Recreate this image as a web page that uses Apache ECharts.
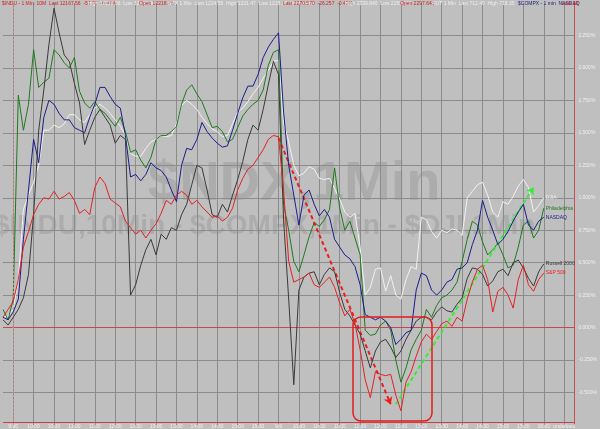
<!DOCTYPE html>
<html><head><meta charset="utf-8">
<script src="https://cdn.jsdelivr.net/npm/echarts@6/dist/echarts.min.js"></script>
<style>html,body{margin:0;padding:0;background:#bfbfbf}#c{width:600px;height:429px}</style>
</head><body><div id="c"></div>
<script>
// tick labels at each vertical gridline (every 4th category starting at 2)
const timeLabels = ['9:30','10:00','10:30','11:00','11:30','12:00','12:30','13:00','13:30','14:00','14:30','15:00','15:30','9/9','10:00','10:30','11:00','11:30','12:00','12:30','13:00','13:30','14:00','14:30','15:00','15:30','16:00'];
const seriesNames = ['DJIA','Philadelphia','NASDAQ','Russell 2000','S&P 500'];
// percent change values, one per category (5.19px step)
const djia = [0.08,0.09,0.14,0.37,0.91,1.02,1.12,1.25,1.52,1.52,1.56,1.54,1.57,1.64,1.64,1.60,1.58,1.64,1.69,1.72,1.69,1.65,1.60,1.55,1.48,1.34,1.32,1.32,1.38,1.43,1.45,1.48,1.47,1.48,1.57,1.71,1.75,1.72,1.68,1.62,1.57,1.53,1.51,1.47,1.48,1.57,1.66,1.69,1.74,1.80,1.85,1.92,1.98,2.05,2.06,
1.58,1.43,1.25,1.17,1.19,1.24,1.22,1.15,1.14,1.15,1.07,0.99,0.89,0.85,0.88,0.62,0.25,0.31,0.45,0.46,0.28,0.40,0.25,0.22,0.37,0.47,0.45,0.85,0.83,0.74,0.69,0.75,0.73,0.76,0.75,0.71,1.00,1.05,1.10,1.12,1.02,0.89,0.85,0.97,0.95,1.01,1.09,1.14,1.08,0.89,0.94,1.00];
const philly = [0.14,0.06,0.22,1.79,1.52,1.72,2.14,1.85,1.89,1.92,2.14,2.10,2.04,2.00,2.08,1.82,1.73,1.69,1.74,1.68,1.65,1.60,1.55,1.62,1.51,1.35,1.37,1.29,1.23,1.31,1.45,1.48,1.48,1.51,1.55,1.72,1.83,1.87,1.80,1.74,1.64,1.54,1.55,1.51,1.43,1.45,1.54,1.63,1.68,1.72,1.75,1.83,2.02,2.12,2.14,
0.95,0.75,0.51,0.43,0.56,0.70,0.81,0.78,0.83,0.91,1.23,0.92,0.75,0.82,0.69,0.56,-0.02,-0.06,-0.05,0.02,0.05,-0.02,-0.25,-0.42,-0.31,-0.17,-0.09,-0.02,0.14,0.08,0.17,0.23,0.25,0.29,0.35,0.51,0.68,0.82,0.79,0.66,0.56,0.60,0.65,0.56,0.46,0.48,0.62,0.79,0.82,0.69,0.75,0.92];
const nasdaq = [0.08,0.06,0.12,0.22,0.68,1.06,1.45,1.27,1.62,1.75,1.72,1.65,1.60,1.60,1.54,1.52,1.50,1.62,1.72,1.85,1.85,1.78,1.72,1.69,1.48,1.16,1.18,1.13,1.18,1.27,1.23,1.21,1.16,1.06,0.97,1.25,1.38,1.37,1.45,1.58,1.51,1.46,1.42,1.39,1.40,1.52,1.65,1.77,1.86,1.86,1.95,2.08,2.16,2.22,2.27,
1.66,1.25,1.02,0.79,1.02,1.06,0.95,0.86,0.91,0.85,0.68,0.62,0.56,0.53,0.47,0.33,0.10,0.08,0.06,0.08,0.05,0.00,-0.13,-0.09,-0.04,-0.02,0.29,0.42,0.40,0.29,0.25,0.29,0.35,0.37,0.45,0.46,0.50,0.64,0.75,0.98,0.85,0.75,0.64,0.68,0.74,0.82,0.89,0.95,0.79,0.75,0.82,0.85];
const russell = [0.06,0.02,0.08,0.14,0.23,0.41,0.87,1.52,1.83,2.18,2.46,2.27,2.10,2.05,1.88,1.73,1.41,1.52,1.62,1.68,1.62,1.56,1.42,1.48,1.45,0.25,0.33,0.48,0.60,0.68,0.56,0.72,0.68,0.77,0.75,0.87,0.95,1.10,1.25,1.23,1.06,0.87,0.85,0.95,0.89,1.02,1.14,1.28,1.45,1.56,1.52,1.68,1.87,2.05,1.95,
0.83,0.22,-0.44,0.29,0.39,0.42,0.43,0.33,0.41,0.46,0.43,0.27,0.14,0.09,0.02,-0.05,-0.18,-0.31,-0.18,-0.11,-0.09,-0.15,-0.23,-0.18,-0.09,-0.02,0.05,0.08,0.08,0.06,0.12,0.16,0.13,0.12,0.18,0.23,0.38,0.46,0.45,0.41,0.32,0.36,0.43,0.45,0.40,0.50,0.52,0.46,0.38,0.32,0.43,0.49];
const spx = [0.08,0.14,0.20,0.37,0.62,0.74,0.87,0.95,1.00,0.99,1.05,0.99,1.01,1.04,0.98,0.88,0.91,0.87,1.08,1.16,1.11,0.99,0.96,0.93,0.82,0.77,0.72,0.75,0.69,0.75,0.80,0.88,0.98,0.95,1.02,1.05,1.02,0.95,0.98,0.93,0.89,0.85,0.86,0.82,0.85,0.92,1.06,1.15,1.22,1.25,1.31,1.37,1.45,1.48,1.47,
1.06,0.51,0.35,0.37,0.39,0.42,0.33,0.31,0.35,0.39,0.31,0.19,0.09,0.14,0.03,-0.17,-0.40,-0.54,-0.34,-0.36,-0.37,-0.36,-0.52,-0.64,-0.42,-0.34,-0.22,-0.11,-0.05,-0.09,-0.03,0.03,0.05,0.01,0.08,0.05,0.22,0.35,0.45,0.48,0.37,0.12,0.28,0.31,0.25,0.15,0.37,0.48,0.33,0.28,0.37,0.42];
// annotation arrows [category, value]
const redArrow = [[54, 1.46], [76, -0.59]];
const greenArrow = [[77, -0.59], [104, 1.08]];

const NCAT = 113;
const cats = [];
for (let i = 0; i < NCAT; i++) {
  cats.push((i - 2) % 4 === 0 && i >= 2 ? timeLabels[(i - 2) / 4] : '');
}
const colors = ['#f2f2f2', '#1f7a1f', '#1c1c8c', '#3a3a3a', '#e32222'];
const lists = [djia, philly, nasdaq, russell, spx];
const badgeTextColor = ['#bbbbbb', '#ffffff', '#ffffff', '#ffffff', '#ffffff'];

const series = lists.map((d, k) => ({
  type: 'line', name: seriesNames[k], data: d, symbol: 'none', z: 3 + k,
  lineStyle: { color: colors[k], width: 1 },
  itemStyle: { color: colors[k] },
  endLabel: { show: true, formatter: seriesNames[k], color: k === 0 ? '#eeeeee' : colors[k], fontSize: 5, distance: 2, fontFamily: 'Liberation Sans' },
  markLine: {
    silent: true, symbol: 'none', animation: false,
    lineStyle: { opacity: 0 },
    label: { show: true, position: 'end', distance: 1, fontSize: 5.5, fontFamily: 'Liberation Sans',
      color: badgeTextColor[k], backgroundColor: colors[k], padding: [1, 2, 1, 2],
      formatter: p => p.value.toFixed(3) + '%' },
    data: [{ yAxis: d[d.length - 1] }]
  }
}));
// decorative reference lines and arrows
series.push({
  type: 'line', data: [], silent: true,
  markLine: {
    silent: true, animation: false, symbol: 'none', label: { show: false },
    data: [
      { yAxis: 0, lineStyle: { color: '#c84848', width: 1, type: 'solid' } },
      { yAxis: -0.73, lineStyle: { color: '#d04040', width: 1, type: 'solid' } },
      { xAxis: 2, lineStyle: { color: '#d88a8a', width: 1, type: [2, 2] } }
    ]
  }
});
series.push({
  type: 'line', data: [], silent: true, z: 20,
  markLine: {
    silent: true, animation: false, symbol: ['none', 'arrow'], symbolSize: 7, label: { show: false },
    data: [
      [{ coord: redArrow[0], lineStyle: { color: '#ee1c1c', width: 2, type: [4, 3] }, itemStyle: { color: '#ee1c1c' } }, { coord: redArrow[1] }],
      [{ coord: greenArrow[0], lineStyle: { color: '#33ee33', width: 2, type: [4, 3] }, itemStyle: { color: '#33ee33' } }, { coord: greenArrow[1] }]
    ]
  }
});

const hdr = (x, text, fill) => ({ type: 'text', left: x, top: 1, z: 50, style: { text, fill, font: '5px "Liberation Sans"' } });
const chart = echarts.init(document.getElementById('c'));
chart.setOption({
  backgroundColor: '#bfbfbf',
  animation: false,
  grid: { left: 0.6, right: 18, top: 3, bottom: 3.5 },
  xAxis: {
    type: 'category', data: cats, boundaryGap: false,
    axisLine: { show: false }, axisTick: { show: false },
    axisLabel: { interval: 0, color: '#f0f0f0', fontSize: 5, margin: -1, fontFamily: 'Liberation Sans' },
    splitLine: { show: true, interval: (i) => i >= 2 && (i - 2) % 4 === 0, lineStyle: { color: '#8c8c8c', width: 1 } }
  },
  yAxis: {
    type: 'value', position: 'right', min: -0.75, max: 2.5, interval: 0.25,
    axisLine: { show: true, lineStyle: { color: '#c85050', width: 1 } },
    axisTick: { show: false },
    axisLabel: { color: '#f0f0f0', fontSize: 5, margin: 4, fontFamily: 'Liberation Sans', showMinLabel: false, showMaxLabel: false,
      formatter: v => v.toFixed(3) + '%' },
    splitLine: { show: true, lineStyle: { color: ['rgba(0,0,0,0)', '#8c8c8c', '#8c8c8c', '#8c8c8c', '#8c8c8c', '#8c8c8c', '#8c8c8c', '#8c8c8c', '#8c8c8c', '#8c8c8c', '#8c8c8c', '#8c8c8c', '#8c8c8c', 'rgba(0,0,0,0)'], width: 1 } }
  },
  graphic: [
    { type: 'text', left: 148, top: 157, z: -1, style: { text: '$NDX,1Min', fill: '#acacac', font: 'bold 56px "Liberation Sans"' } },
    { type: 'text', left: -6, top: 212, z: -1, style: { text: '$INDU,10Min - $COMPX,1Min - $DJI,1Min', fill: '#acacac', font: 'bold 28px "Liberation Sans"' } },
    hdr(2, '$INDU - 1 Min: 10M  Last 12167.56  -57.90  -0.47%', '#d42020'),
    hdr(88, 'High 12223.06  Low 12144.46', '#eeeeee'),
    hdr(139, 'Open 12218.78', '#d42020'),
    hdr(168, 'SPX 1 Min  Last 1224.59  High 1231.47  Low 1218.33  NDX 1 Min', '#eeeeee'),
    hdr(283, 'Last 2270.570  -26.257  -0.47%', '#d42020'),
    hdr(345, 'High 2299.840  Low 2265.110', '#eeeeee'),
    hdr(400, 'Open 2297.640', '#d42020'),
    hdr(432, 'RUT 1 Min  Last 712.40  High 718.35', '#eeeeee'),
    hdr(518, '$COMPX - 1 min  NASDAQ', '#20207a'),
    hdr(562, 'Last 26', '#d42020'),
    { type: 'rect', z: 30, shape: { x: 353, y: 317, width: 79, height: 104, r: 8 }, style: { fill: 'none', stroke: '#e31c1c', lineWidth: 1.5 } }
  ],
  series
});
</script></body></html>
